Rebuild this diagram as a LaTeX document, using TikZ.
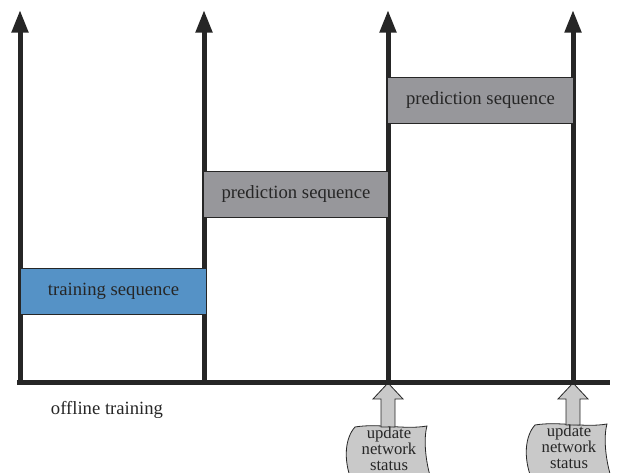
\documentclass[tikz,border=0pt]{standalone}
\usepackage{fontspec}
\setmainfont{Liberation Serif}
\usetikzlibrary{arrows.meta,backgrounds,calc}

\definecolor{trainblue}{RGB}{85,146,198}
\definecolor{predgray}{RGB}{151,151,155}
\definecolor{updgray}{RGB}{201,201,201}
\definecolor{inkdark}{RGB}{38,38,38}

\tikzset{
  axis/.style={line width=3.75pt, draw=inkdark, -{Triangle[length=17pt,width=12pt]}},
  baseaxis/.style={line width=3.75pt, draw=inkdark},
  seqbox/.style={draw=inkdark, line width=0.7pt, minimum width=139pt, minimum height=34.5pt,
    inner sep=0pt, font=\fontsize{14}{16}\selectfont, text=inkdark},
  trainbox/.style={seqbox, fill=trainblue},
  predbox/.style={seqbox, fill=predgray},
  statusbox/.style={align=center, inner sep=0pt, font=\fontsize{12.5}{12}\selectfont, text=inkdark},
  tapeshape/.style={fill=updgray, draw=inkdark, line width=0.6pt},
  updarrow/.style={fill=updgray, draw=inkdark, line width=0.6pt}
}

\begin{document}
\begin{tikzpicture}[x=0.75pt, y=-0.75pt]
  \useasboundingbox (0,0) rectangle (617,473);

  % points on the time line and arrow tops
  \coordinate (b1) at (20,383);  \coordinate (t1) at (20,10);
  \coordinate (b2) at (204,383); \coordinate (t2) at (204,10);
  \coordinate (b3) at (388,383); \coordinate (t3) at (388,10);
  \coordinate (b4) at (573,383); \coordinate (t4) at (573,10);
  \coordinate (bstart) at (17,383);
  \coordinate (bend) at (610,383);

  % vertical time arrows
  \foreach \i in {1,...,4}
    \draw[axis] (b\i) -- (t\i);

  % sequences
  \node[trainbox] (train) at (113.5,291) {training sequence};
  \node[predbox] (predA) at (296,194.5) {prediction sequence};
  \node[predbox] (predB) at (480.5,100) {prediction sequence};

  \node[font=\fontsize{14}{16}\selectfont, text=inkdark] (offline) at (107,410) {offline training};

  % update network status notes
  \node[statusbox] (updA) at (389,449) {update\\network\\status};
  \node[statusbox] (updB) at (569,447) {update\\network\\status};

  \begin{scope}[on background layer]
    \foreach \u/\b in {updA/b3, updB/b4} {
      \draw[tapeshape, shift={(\u.center)}]
        (-34,-22) .. controls (-44,-11) and (-46,11) .. (-37,33)
        -- (43,33) .. controls (37,16) and (34,-9) .. (38,-23)
        .. controls (15,-19) and (-10,-26) .. cycle;
      \draw[updarrow]
        (\b) -- ($(\b)+(15,16)$) -- ($(\b)+(7,16)$)
        -- ($(\b |- \u.center)+(7,-22)$) -- ($(\b |- \u.center)+(-7,-22)$)
        -- ($(\b)+(-7,16)$) -- ($(\b)+(-15,16)$) -- cycle;
    }
  \end{scope}

  % time line
  \draw[baseaxis] (bstart) -- (bend);
\end{tikzpicture}
\end{document}
